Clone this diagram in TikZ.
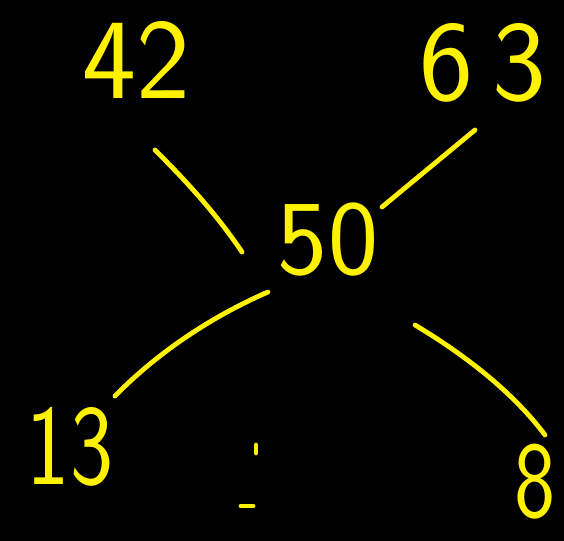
\documentclass[tikz,border=0pt]{standalone}
\begin{document}
\begin{tikzpicture}[x=0.75pt,y=-0.75pt,
  num/.style={text=yellow, font=\sffamily\fontsize{86}{86}\selectfont, inner sep=0pt, anchor=center},
  stroke/.style={draw=yellow, line width=3.6pt, line cap=round}]
\fill[black] (0,0) rectangle (564,541);
\useasboundingbox (0,0) rectangle (564,541);
\node[num] (n42) at (136,60) {42};
\node[num] (n63) at (483,63) {6\,3};
\node[num, font=\sffamily\fontsize{80}{80}\selectfont] (n50) at (328,240) {50};
\node[num, xscale=0.8] (n13) at (70,447) {13};
\node[num, xscale=0.8, font=\sffamily\fontsize{82}{82}\selectfont] (n8) at (535,482) {8};
\coordinate (a1) at (155,150); \coordinate (a2) at (242,252);
\coordinate (b1) at (475,130); \coordinate (b2) at (382,207);
\coordinate (c1) at (268,292); \coordinate (c2) at (115,396);
\coordinate (d1) at (415,325); \coordinate (d2) at (545,435);
\coordinate (e1) at (256,445); \coordinate (e2) at (256,453);
\coordinate (f1) at (241,506); \coordinate (f2) at (253,506);
\draw[stroke] (a1) .. controls (185,180) and (215,212) .. (a2);
\draw[stroke] (b1) -- (b2);
\draw[stroke] (c1) .. controls (215,315) and (160,350) .. (c2);
\draw[stroke] (d1) .. controls (470,358) and (515,395) .. (d2);
\draw[stroke] (e1) -- (e2);
\draw[stroke] (f1) -- (f2);
\end{tikzpicture}
\end{document}
